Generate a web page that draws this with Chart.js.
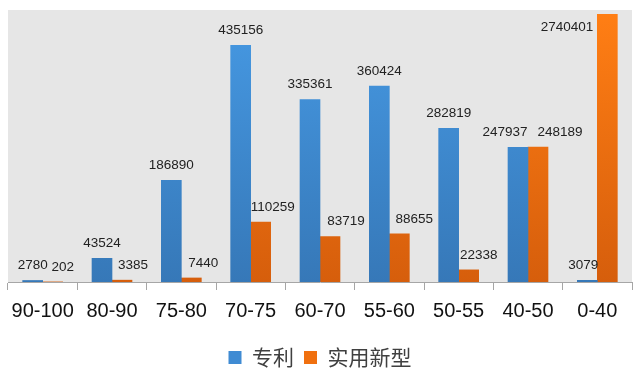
<!DOCTYPE html>
<html>
<head>
<meta charset="utf-8">
<script src="https://cdn.jsdelivr.net/npm/chart.js@4"></script>
<style>
  html, body { margin: 0; padding: 0; background: #fff; }
  #wrap { width: 640px; height: 380px; }
</style>
</head>
<body>
<div id="wrap"><canvas id="grafico" width="640" height="380"></canvas></div>
<script>
const categorias = ['90-100', '80-90', '75-80', '70-75', '60-70', '55-60', '50-55', '40-50', '0-40'];
const patentes = [2780, 43524, 186890, 435156, 335361, 360424, 282819, 247937, 3079];
const modelos = [202, 3385, 7440, 110259, 83719, 88655, 22338, 248189, 2740401];
const nomesSeries = ['专利', '实用新型'];

// deslocamento horizontal dos rótulos (como no original)
const ajusteRotulo = [
  [0, 0, 0, 0, 0, 0, 0, -13, -4],
  [10, 11, 12, 12, 16, 15, 10, 22, 0]
];

function gradiente(ctx, area, c1, c2) {
  const g = ctx.createLinearGradient(0, area.top, 0, area.bottom);
  g.addColorStop(0, c1);
  g.addColorStop(1, c2);
  return g;
}

function corAzul(context) {
  const area = context.chart.chartArea;
  if (!area) return '#4597e0';
  return gradiente(context.chart.ctx, area, '#4699e3', '#3678b8');
}
function corLaranja(context) {
  const area = context.chart.chartArea;
  if (!area) return '#ff7b12';
  return gradiente(context.chart.ctx, area, '#ff7e14', '#d65e0c');
}

// fundo cinza da área do gráfico
const fundo = {
  id: 'fundo',
  beforeDraw(chart) {
    const { ctx, chartArea } = chart;
    ctx.save();
    ctx.fillStyle = '#e6e6e6';
    ctx.fillRect(chartArea.left, chartArea.top - 4, chartArea.right - chartArea.left, chartArea.bottom - chartArea.top + 4);
    ctx.restore();
  }
};

// rótulos com os valores
const rotulos = {
  id: 'rotulos',
  afterDatasetsDraw(chart) {
    const ctx = chart.ctx;
    ctx.save();
    ctx.font = '13.5px "Liberation Sans", Arial, sans-serif';
    ctx.fillStyle = '#222';
    ctx.textBaseline = 'middle';
    chart.data.datasets.forEach((ds, i) => {
      const meta = chart.getDatasetMeta(i);
      meta.data.forEach((bar, j) => {
        const texto = String(ds.data[j]);
        if (bar.y < chart.chartArea.top) {
          // barra cortada: rótulo ao lado esquerdo
          ctx.textAlign = 'right';
          ctx.fillText(texto, bar.x - bar.width / 2 - 4, chart.chartArea.top + 13);
        } else {
          ctx.textAlign = 'center';
          ctx.fillText(texto, bar.x + ajusteRotulo[i][j], bar.y - 15);
        }
      });
    });
    ctx.restore();
  }
};

const ctxGrafico = document.getElementById('grafico').getContext('2d');
const grafico = new Chart(ctxGrafico, {
  type: 'bar',
  data: {
    labels: categorias,
    datasets: [
      { label: nomesSeries[0], data: patentes, backgroundColor: corAzul, barThickness: 20 },
      { label: nomesSeries[1], data: modelos, backgroundColor: corLaranja, barThickness: 20 }
    ]
  },
  plugins: [fundo, rotulos],
  options: {
    responsive: false,
    animation: false,
    layout: { padding: { left: 8, right: 8, top: 14, bottom: 2 } },
    scales: {
      x: {
        grid: { display: true, drawOnChartArea: false, color: '#a6a6a6', tickLength: 8, offset: true },
        border: { display: true, color: '#a6a6a6' },
        ticks: { color: '#111', padding: 9, font: { size: 20, family: '"Liberation Sans", Arial, sans-serif' } },
        afterFit(scale) { scale.height += 5; }
      },
      y: { display: false, min: 0, max: 493000 }
    },
    plugins: {
      tooltip: { enabled: false },
      legend: {
        position: 'bottom',
        labels: {
          boxWidth: 13,
          boxHeight: 13,
          padding: 10,
          color: '#404040',
          font: { size: 21, family: '"Noto Sans CJK SC", sans-serif' },
          generateLabels(chart) {
            const cores = ['#3f8bd3', '#f0700f'];
            return chart.data.datasets.map((ds, i) => ({
              text: ds.label, fillStyle: cores[i], strokeStyle: cores[i], lineWidth: 0, datasetIndex: i, fontColor: '#404040'
            }));
          }
        }
      }
    }
  }
});
</script>
</body>
</html>
